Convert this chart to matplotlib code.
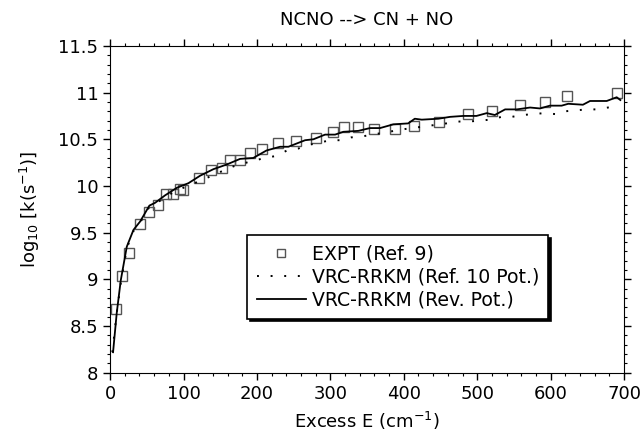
import matplotlib
matplotlib.use("Agg")
import matplotlib.pyplot as plt
from matplotlib.ticker import MultipleLocator, FormatStrFormatter

# experimental points (Ref. 9)
expt_E = [8, 16, 26, 41, 53, 65, 76, 85, 95, 99, 121, 137, 152, 163, 177, 191,
          207, 229, 253, 281, 304, 319, 337, 360, 388, 414, 448, 487, 520, 558,
          592, 622, 690]
expt_logk = [8.68, 9.04, 9.28, 9.59, 9.72, 9.80, 9.91, 9.91, 9.97, 9.96, 10.09,
             10.17, 10.19, 10.28, 10.28, 10.35, 10.40, 10.46, 10.48, 10.51,
             10.58, 10.63, 10.63, 10.61, 10.61, 10.64, 10.68, 10.77, 10.80,
             10.87, 10.90, 10.96, 11.00]

# VRC-RRKM, Ref. 10 potential (dotted)
ref10_E = [3, 9, 15, 23, 32, 41, 53, 62, 75, 90, 109, 130, 150, 168, 190, 211,
           225, 241, 256, 270, 284, 299, 313, 328, 343, 372, 402, 430, 458, 474,
           489, 503, 518, 533, 547, 562, 577, 591, 606, 620, 635, 649, 664, 678,
           692]
ref10_logk = [8.22, 8.64, 8.99, 9.34, 9.52, 9.61, 9.77, 9.81, 9.88, 9.95, 10.01,
              10.08, 10.15, 10.21, 10.26, 10.30, 10.32, 10.38, 10.40, 10.44,
              10.46, 10.49, 10.49, 10.52, 10.53, 10.57, 10.61, 10.64, 10.67,
              10.69, 10.69, 10.70, 10.71, 10.74, 10.74, 10.76, 10.77, 10.78,
              10.77, 10.80, 10.81, 10.82, 10.82, 10.84, 10.84]

# VRC-RRKM, revised potential (solid)
rev_E = [4, 9, 14.5, 22.7, 31.8, 40.9, 53.5, 61.3, 74.9, 90.8, 106.7, 122.6,
         140.7, 158.9, 177, 195, 213, 231.5, 242.8, 265.6, 276.9, 292.8, 306.4,
         317.7, 338, 354, 367.7, 385.8, 406, 415, 424.5, 447, 463, 481, 499, 513,
         524, 538, 554, 572, 585.6, 599, 615, 624, 644, 653.7, 676.4, 690, 695]
rev_logk = [8.22, 8.64, 8.99, 9.35, 9.53, 9.62, 9.79, 9.82, 9.90, 9.98, 10.03,
            10.11, 10.18, 10.23, 10.29, 10.30, 10.38, 10.42, 10.42, 10.49, 10.50,
            10.55, 10.55, 10.58, 10.59, 10.62, 10.62, 10.66, 10.67, 10.72, 10.71,
            10.72, 10.74, 10.75, 10.75, 10.78, 10.76, 10.82, 10.82, 10.84, 10.83,
            10.86, 10.86, 10.88, 10.87, 10.91, 10.91, 10.95, 10.92]

plt.rcParams['font.family'] = ['DejaVu Sans']
plt.rcParams['font.size'] = 13

fig = plt.figure(figsize=(6.44, 4.37), dpi=100)
ax = fig.add_axes([0.171, 0.147, 0.798, 0.748])

ax.plot(expt_E, expt_logk, linestyle='none', marker='s', markersize=7,
        markerfacecolor='none', markeredgecolor='#555555', markeredgewidth=1.0,
        label='EXPT (Ref. 9)')
ax.plot(ref10_E, ref10_logk, color='black', linewidth=1.4,
        linestyle=(0, (1, 6)), label='VRC-RRKM (Ref. 10 Pot.)')
ax.plot(rev_E, rev_logk, color='black', linewidth=1.3,
        label='VRC-RRKM (Rev. Pot.)')

ax.set_xlim(0, 700)
ax.set_ylim(8, 11.5)
ax.xaxis.set_major_locator(MultipleLocator(100))
ax.xaxis.set_minor_locator(MultipleLocator(20))
ax.yaxis.set_major_locator(MultipleLocator(0.5))
ax.yaxis.set_minor_locator(MultipleLocator(0.1))
ax.yaxis.set_major_formatter(FormatStrFormatter('%g'))
ax.tick_params(which='both', direction='out', top=True, right=True)
ax.tick_params(which='major', length=5, width=1)
ax.tick_params(which='minor', length=2.5, width=0.8)

ax.set_title('NCNO --> CN + NO', fontsize=13, pad=15)
ax.set_xlabel('Excess E (cm$^{-1}$)', labelpad=5)
ax.set_ylabel('log$_{10}$ [k(s$^{-1}$)]', labelpad=12)

leg = ax.legend(loc='upper left', bbox_to_anchor=(0.267, 0.421),
                borderaxespad=0, fancybox=False,
                shadow={'color': 'black', 'alpha': 1},
                framealpha=1, edgecolor='black', handlelength=2.6,
                handletextpad=0.3, labelspacing=0.2, borderpad=0.5,
                markerscale=0.85, fontsize=13.6)
leg.get_frame().set_linewidth(1.2)

fig.savefig('out.png', dpi=100)
